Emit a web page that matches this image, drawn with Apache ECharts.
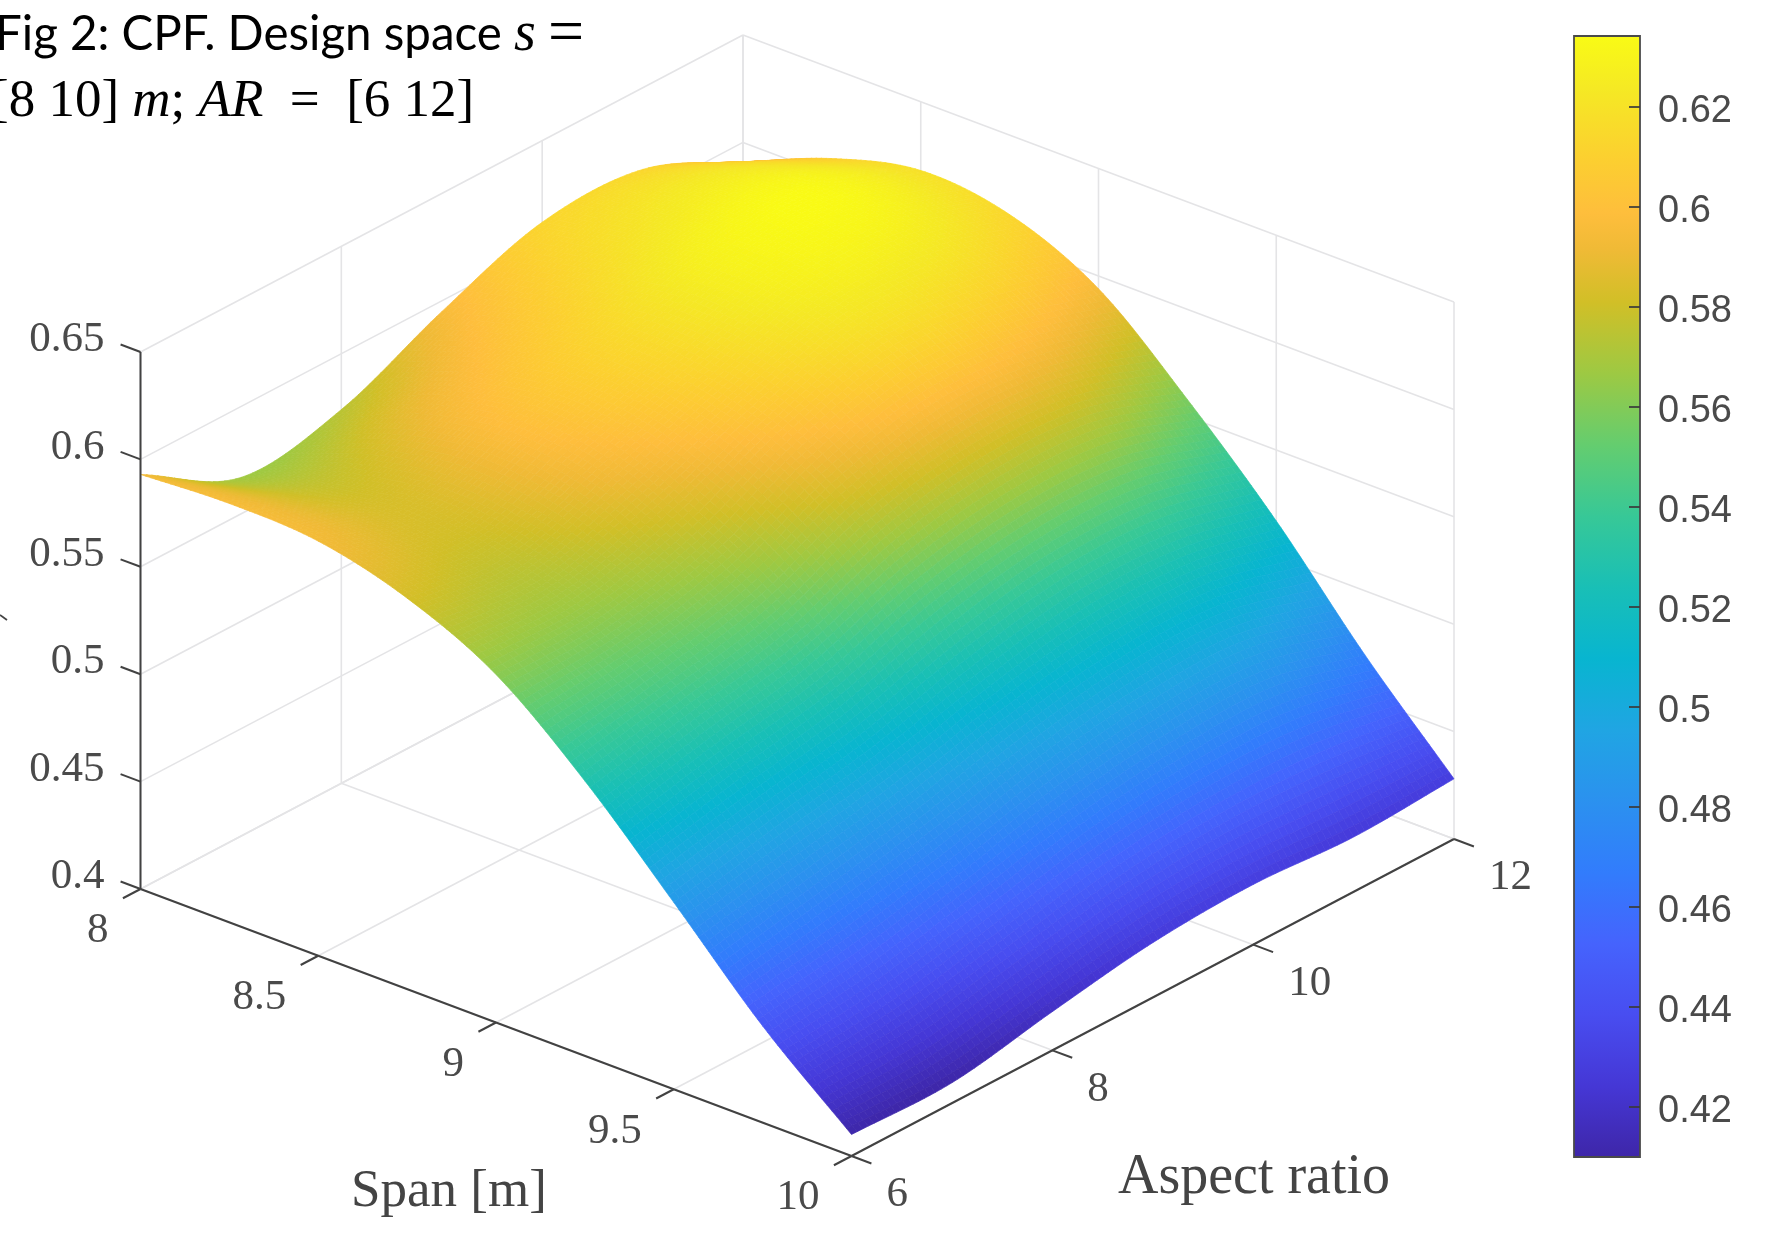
<!DOCTYPE html>
<html>
<head>
<meta charset="utf-8">
<style>html,body{margin:0;padding:0;background:#fff}#chart{width:1776px;height:1242px}</style>
<script src="https://cdn.jsdelivr.net/npm/echarts@6/dist/echarts.min.js"></script>
</head>
<body>
<div id="chart"></div>
<script>
// ---- values ----
const spanValues = [8, 8.25, 8.5, 8.75, 9, 9.25, 9.5, 9.75, 10];
const arValues = [6, 7, 8, 9, 10, 11, 12];
// CPF along span, one list per aspect ratio
const cpfAR6  = [.593, .595, .593, .582, .562, .528, .487, .445, .410];
const cpfAR7  = [.567, .578, .583, .577, .563, .538, .497, .452, .4095];
const cpfAR8  = [.574, .592, .600, .594, .575, .548, .506, .463, .418];
const cpfAR9  = [.595, .606, .614, .611, .597, .568, .519, .475, .4255];
const cpfAR10 = [.612, .620, .629, .626, .611, .577, .528, .482, .428];
const cpfAR11 = [.612, .625, .633, .626, .607, .575, .528, .483, .4255];
const cpfAR12 = [.591, .608, .618, .613, .594, .558, .517, .470, .428];
const cpfByAR = [cpfAR6, cpfAR7, cpfAR8, cpfAR9, cpfAR10, cpfAR11, cpfAR12];

const spanTicks = [8, 8.5, 9, 9.5, 10];
const arTicks = [6, 8, 10, 12];
const zTicks = [0.4, 0.45, 0.5, 0.55, 0.6, 0.65];
const zTickLabels = ['0.4', '0.45', '0.5', '0.55', '0.6', '0.65'];
const barTicks = [0.42, 0.44, 0.46, 0.48, 0.5, 0.52, 0.54, 0.56, 0.58, 0.6, 0.62];
const barTickLabels = ['0.42', '0.44', '0.46', '0.48', '0.5', '0.52', '0.54', '0.56', '0.58', '0.6', '0.62'];
const barMin = 0.4098, barMax = 0.634;

// parula colour map: [position, r, g, b]
const parula = [
 [0/63,.2422,.1504,.6603],[4/63,.2706,.2147,.8364],[8/63,.2813,.3006,.9414],[12/63,.2699,.3892,.9906],
 [16/63,.1963,.4847,.9892],[20/63,.1687,.5703,.9359],[24/63,.1248,.6459,.8883],[28/63,.0297,.7082,.8163],
 [32/63,.0964,.7500,.7120],[36/63,.2161,.7843,.5923],[40/63,.3909,.8029,.4354],[44/63,.6174,.7876,.2612],
 [48/63,.8203,.7498,.1535],[51/63,.9393,.7288,.2100],[53/63,.9956,.7434,.2371],[56/63,.9892,.8136,.1885],
 [60/63,.9597,.9135,.1423],[63/63,.9769,.9839,.0805]
];
function rgb(c){return 'rgb('+Math.round(c[1]*255)+','+Math.round(c[2]*255)+','+Math.round(c[3]*255)+')';}
function colorOf(z){
  const p=Math.max(0,Math.min(1,(z-barMin)/(barMax-barMin)));
  for(let k=1;k<parula.length;k++){
    if(p<=parula[k][0]){
      const a=parula[k-1],b=parula[k],t=(p-a[0])/(b[0]-a[0]);
      return rgb([0,a[1]+(b[1]-a[1])*t,a[2]+(b[2]-a[2])*t,a[3]+(b[3]-a[3])*t]);
    }
  }
  return rgb(parula[parula.length-1]);
}

// ---- the view: a fixed parallel projection of the axes box ----
const view = {ox:140.5, oy:889, sx:711, sy:267, ax:602.5, ay:-317, zy:-537};
const sMin=8,sMax=10,aMin=6,aMax=12,zMin=0.4,zMax=0.65;
function project(s,a,z){
  const u=(s-sMin)/(sMax-sMin), v=(a-aMin)/(aMax-aMin), w=(z-zMin)/(zMax-zMin);
  return [view.ox+view.sx*u+view.ax*v, view.oy+view.sy*u+view.ay*v+view.zy*w];
}

// ---- smooth shading between the read values (like MATLAB "shading interp") ----
const SUB=18;
function cr(p0,p1,p2,p3,t){
  return p1+0.5*t*((p2-p0)+t*((2*p0-5*p1+4*p2-p3)+t*(3*(p1-p2)+p3-p0)));
}
function at(i,j){
  const ni=spanValues.length, nj=arValues.length;
  // extend linearly beyond the edges
  if(i<0) return 2*at(0,j)-at(-i,j);
  if(i>=ni) return 2*at(ni-1,j)-at(2*(ni-1)-i,j);
  if(j<0) return 2*at(i,0)-at(i,-j);
  if(j>=nj) return 2*at(i,nj-1)-at(i,2*(nj-1)-j);
  return cpfByAR[j][i];
}
function surf(si,aj){
  const i=Math.min(Math.floor(si),spanValues.length-2), j=Math.min(Math.floor(aj),arValues.length-2);
  const t=si-i,u=aj-j, r=[];
  for(let m=-1;m<=2;m++) r.push(cr(at(i+m,j-1),at(i+m,j),at(i+m,j+1),at(i+m,j+2),u));
  return cr(r[0],r[1],r[2],r[3],t);
}
const fine=[];
for(let i=0;i<=(spanValues.length-1)*SUB;i++){
  const row=[];
  for(let j=0;j<=(arValues.length-1)*SUB;j++){
    const si=i/SUB,aj=j/SUB,z=surf(si,aj);
    row.push({z:z,p:project(sMin+si*(spanValues[1]-spanValues[0]),aMin+aj*(arValues[1]-arValues[0]),z)});
  }
  fine.push(row);
}
const cells=[];
for(let i=0;i<spanValues.length-1;i++) for(let j=arValues.length-2;j>=0;j--) cells.push([i,j]);

function renderCell(params,api){
  const I=api.value(0),J=api.value(1),children=[];
  for(let a=0;a<SUB;a++){
    for(let b=SUB-1;b>=0;b--){
      const i=I*SUB+a,j=J*SUB+b;
      const q=[fine[i][j],fine[i+1][j],fine[i+1][j+1],fine[i][j+1]];
      const c=colorOf((q[0].z+q[1].z+q[2].z+q[3].z)/4);
      children.push({type:'polygon',silent:true,shape:{points:q.map(n=>api.coord(n.p))},style:{fill:c,stroke:c,lineWidth:0.7}});
    }
  }
  return {type:'group',children:children};
}

// ---- box: grid lines, axes, ticks and their labels ----
const seg=[];  // [s1,a1,z1,s2,a2,z2,kind]
zTicks.forEach(z=>{seg.push([sMin,aMin,z,sMin,aMax,z,0]);seg.push([sMin,aMax,z,sMax,aMax,z,0]);});
arTicks.forEach(a=>{seg.push([sMin,a,zMin,sMin,a,zMax,0]);seg.push([sMin,a,zMin,sMax,a,zMin,0]);});
spanTicks.forEach(s=>{seg.push([s,aMax,zMin,s,aMax,zMax,0]);seg.push([s,aMin,zMin,s,aMax,zMin,0]);});
const axisSeg=[];
axisSeg.push([sMin,aMin,zMin,sMax,aMin,zMin,1]);
axisSeg.push([sMax,aMin,zMin,sMax,aMax,zMin,1]);
axisSeg.push([sMin,aMin,zMin,sMin,aMin,zMax,1]);
zTicks.forEach(z=>axisSeg.push([sMin,aMin,z,sMin-0.056,aMin,z,1]));
spanTicks.forEach(s=>axisSeg.push([s,aMin,zMin,s,aMin-0.175,zMin,1]));
arTicks.forEach(a=>axisSeg.push([sMax,a,zMin,sMax+0.056,a,zMin,1]));

function renderSeg(params,api){
  const a=project(api.value(0),api.value(1),api.value(2)),b=project(api.value(3),api.value(4),api.value(5));
  const p=api.coord(a),q=api.coord(b),k=api.value(6);
  return {type:'line',silent:true,shape:{x1:p[0],y1:p[1],x2:q[0],y2:q[1]},
    style:k?{stroke:'#424242',lineWidth:2}:{stroke:'#e4e4e6',lineWidth:1.6}};
}
const labelItems=[]; // [s,a,z,text,kind]
zTicks.forEach((z,i)=>labelItems.push([sMin,aMin,z,zTickLabels[i],0]));
spanTicks.forEach(s=>labelItems.push([s,aMin,zMin,String(s),1]));
arTicks.forEach(a=>labelItems.push([sMax,a,zMin,String(a),2]));
const labelPlace=[{dx:-36,dy:-12,align:'right'},{dx:-32,dy:42,align:'right'},{dx:35,dy:39,align:'left'}];
function renderLabel(params,api){
  const p=api.coord(project(api.value(0),api.value(1),api.value(2))),pl=labelPlace[api.value(4)];
  return {type:'text',silent:true,x:p[0]+pl.dx,y:p[1]+pl.dy,
    style:{text:String(api.value(3)),fontFamily:'Liberation Serif',fontSize:43,fill:'#4a4a4a',align:pl.align,verticalAlign:'middle'}};
}
function renderBar(params,api){
  const a=api.coord([0,barMin]),b=api.coord([1,barMax]);
  const kids=[{type:'rect',silent:true,shape:{x:a[0],y:b[1],width:b[0]-a[0],height:a[1]-b[1]},
    style:{fill:{type:'linear',x:0,y:1,x2:0,y2:0,colorStops:parula.map(c=>({offset:c[0],color:rgb(c)}))},stroke:'#4a4a4a',lineWidth:1.8}}];
  barTicks.forEach((v,i)=>{
    const t=api.coord([1,v]);
    kids.push({type:'line',silent:true,shape:{x1:t[0]-11,y1:t[1]+1,x2:t[0],y2:t[1]+1},style:{stroke:'#3a3a3a',lineWidth:2,opacity:0.85}});
    kids.push({type:'text',silent:true,x:t[0]+18,y:t[1]+6,style:{text:barTickLabels[i],fontFamily:'Liberation Sans',fontSize:38,fill:'#4a4a4a',align:'left',verticalAlign:'middle'}});
  });
  return {type:'group',children:kids};
}

const sans='Lato', serif='Liberation Serif';
const option={
  animation:false,backgroundColor:'#fff',tooltip:{show:false},
  grid:[{left:0,top:0,width:1776,height:1242,containLabel:false},{left:1574,top:36,width:66,height:1121}],
  xAxis:[{gridIndex:0,type:'value',min:0,max:1776,show:false},{gridIndex:1,type:'value',min:0,max:1,show:false}],
  yAxis:[{gridIndex:0,type:'value',min:0,max:1242,inverse:true,show:false},
    {gridIndex:1,type:'value',min:barMin,max:barMax,show:false}],
  series:[
    {type:'custom',xAxisIndex:0,yAxisIndex:0,coordinateSystem:'cartesian2d',clip:false,silent:true,z:1,progressive:0,renderItem:renderSeg,data:seg,encode:{x:0,y:1}},
    {type:'custom',xAxisIndex:0,yAxisIndex:0,coordinateSystem:'cartesian2d',clip:false,silent:true,z:2,progressive:0,renderItem:renderCell,data:cells,encode:{x:0,y:1}},
    {type:'custom',xAxisIndex:0,yAxisIndex:0,coordinateSystem:'cartesian2d',clip:false,silent:true,z:3,progressive:0,renderItem:renderSeg,data:axisSeg,encode:{x:0,y:1}},
    {type:'custom',xAxisIndex:0,yAxisIndex:0,coordinateSystem:'cartesian2d',clip:false,silent:true,z:4,progressive:0,renderItem:renderLabel,data:labelItems,
      dimensions:['s','a','z',{name:'t',type:'ordinal'},'k'],encode:{x:0,y:1}},
    {type:'custom',xAxisIndex:1,yAxisIndex:1,coordinateSystem:'cartesian2d',clip:false,silent:true,z:2,renderItem:renderBar,data:[[0,barMin]],encode:{x:0,y:1}}
  ],
  graphic:[
    {type:'text',silent:true,x:-5,y:3,style:{
      text:'{t|Fig 2: CPF. Design space }{m|s}{t| }{e|=}',
      rich:{t:{fontFamily:sans,fontSize:47.5,fill:'#000'},m:{fontFamily:serif,fontStyle:'italic',fontSize:56,fill:'#000'},e:{fontFamily:serif,fontSize:64,fill:'#000'}}}},
    {type:'text',silent:true,x:-9,y:76,style:{
      text:'{e|[8 10] }{m|m}{e|; }{m|AR}{e|  =  [6 12]}',
      rich:{m:{fontFamily:serif,fontStyle:'italic',fontSize:53,fill:'#000'},e:{fontFamily:serif,fontSize:53,fill:'#000'}}}},
    {type:'text',silent:true,x:449,y:1192,style:{text:'Span [m]',fontFamily:serif,fontSize:53,fill:'#444',align:'center',verticalAlign:'middle'}},
    {type:'text',silent:true,x:1254,y:1178,style:{text:'Aspect ratio',fontFamily:serif,fontSize:56,fill:'#444',align:'center',verticalAlign:'middle'}},
    {type:'line',silent:true,shape:{x1:0,y1:615,x2:7,y2:620},style:{stroke:'#444',lineWidth:1.8}}
  ]
};
const chart=echarts.init(document.getElementById('chart'),null,{renderer:'canvas'});
chart.setOption(option);
</script>
</body>
</html>
